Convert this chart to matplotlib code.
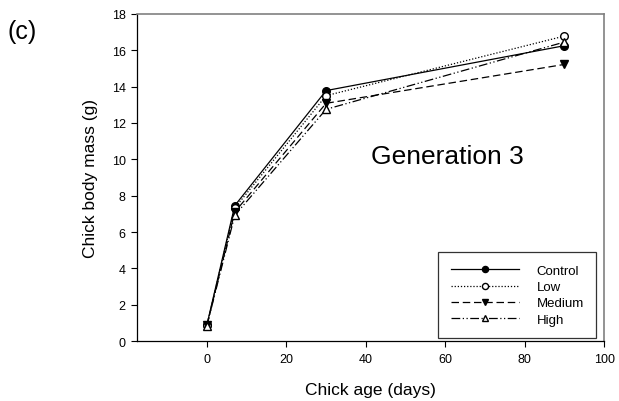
import matplotlib
matplotlib.use("Agg")
import matplotlib.pyplot as plt

plt.rcParams['font.family'] = ['Liberation Sans', 'DejaVu Sans']

days = [0, 7, 30, 90]
control = [0.9, 7.45, 13.78, 16.25]
low = [0.88, 7.32, 13.5, 16.78]
medium = [0.88, 7.1, 13.08, 15.22]
high = [0.85, 6.92, 12.75, 16.45]
series_names = ["Control", "Low", "Medium", "High"]

fig = plt.figure(figsize=(6.19, 4.02), dpi=100)
ax = fig.add_axes([0.222, 0.149, 0.754, 0.814])

ms = 5.5
ax.plot(days, control, color='black', lw=0.9, ls='-', marker='o', ms=ms,
        mfc='black', mec='black', label=series_names[0])
ax.plot(days, low, color='black', lw=0.9, ls=(0, (1, 1.5)), marker='o', ms=ms,
        mfc='white', mec='black', label=series_names[1])
ax.plot(days, medium, color='black', lw=0.9, ls=(0, (6, 3)), marker='v', ms=ms,
        mfc='black', mec='black', label=series_names[2])
ax.plot(days, high, color='black', lw=0.9, ls=(0, (7, 2, 1, 2, 1, 2)), marker='^', ms=ms,
        mfc='white', mec='black', label=series_names[3])

ax.set_xlim(-17.5, 100)
ax.set_ylim(0, 18)
ax.set_xticks([0, 20, 40, 60, 80, 100])
ax.set_yticks(range(0, 19, 2))
ax.tick_params(axis='both', labelsize=9, direction='out', length=4.5, width=0.8,
               pad=4, top=False, right=False)
for s in ['left', 'bottom']:
    ax.spines[s].set_color('black')
    ax.spines[s].set_linewidth(0.9)
for s in ['top', 'right']:
    ax.spines[s].set_color('#808080')
    ax.spines[s].set_linewidth(1.2)

ax.set_xlabel("Chick age (days)", fontsize=12.5, labelpad=12)
ax.set_ylabel("Chick body mass (g)", fontsize=12.5, labelpad=10)

ax.text(0.665, 0.565, "Generation 3", transform=ax.transAxes, fontsize=19,
        ha='center', va='center')
fig.text(0.012, 0.92, "(c)", fontsize=18, ha='left', va='center')

leg = ax.legend(loc='lower right', bbox_to_anchor=(0.983, 0.009), fontsize=9.5,
                frameon=True, fancybox=False, edgecolor='black', handlelength=5.2,
                markerfirst=True, borderpad=0.95, labelspacing=0.3,
                handletextpad=1.3, markerscale=0.8, borderaxespad=0)
leg.get_frame().set_linewidth(0.9)

fig.savefig("out.png", dpi=100)
